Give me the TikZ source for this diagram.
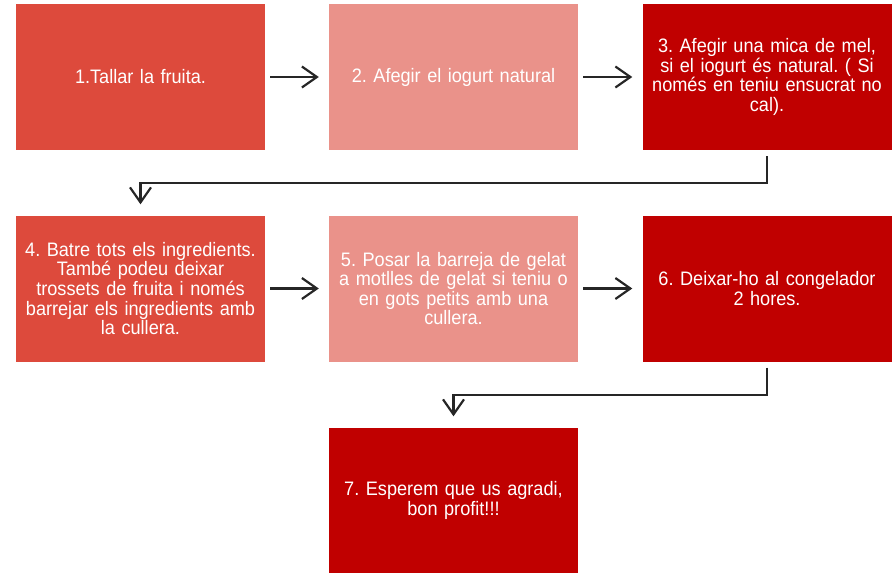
\documentclass[tikz,border=0pt]{standalone}
\usepackage{fontspec}
\setmainfont[FakeStretch=0.93, WordSpace=1.75]{Liberation Sans}
\usetikzlibrary{arrows.meta}
\definecolor{cA}{RGB}{221,74,60}
\definecolor{cB}{RGB}{234,146,138}
\definecolor{cC}{RGB}{192,0,0}
\definecolor{lineC}{RGB}{38,38,38}
\tikzset{
  stepbox/.style={draw=none, minimum width=249pt, minimum height=146pt, inner sep=0pt,
    text width=247pt, align=center, text=white,
    font=\fontsize{19.5pt}{19.6pt}\selectfont\frenchspacing},
  arr/.style={draw=lineC, line width=2.2pt,
    -{Straight Barb[length=15pt,width=21pt,line width=2.2pt]}},
}
\begin{document}
\begin{tikzpicture}[x=1pt,y=-1pt]
\useasboundingbox (0,0) rectangle (895,573);
\node[stepbox, fill=cA] (b1) at (140.5,77) {1.Tallar la fruita.};
\node[stepbox, fill=cB] (b2) at (453.5,77) {2. Afegir el iogurt natural};
\node[stepbox, fill=cC] (b3) at (767,77) {3. Afegir una mica de mel,\\ si el iogurt és natural. ( Si\\ només en teniu ensucrat no\\ cal).};
\node[stepbox, fill=cA] (b4) at (140.5,288.5) {4. Batre tots els ingredients.\\ També podeu deixar\\ trossets de fruita i només\\ barrejar els ingredients amb\\ la cullera.};
\node[stepbox, fill=cB] (b5) at (453.5,288.5) {5. Posar la barreja de gelat\\ a motlles de gelat si teniu o\\ en gots petits amb una\\ cullera.};
\node[stepbox, fill=cC] (b6) at (767,288.5) {6. Deixar-ho al congelador\\ 2 hores.};
\node[stepbox, fill=cC] (b7) at (453.5,500.5) {7. Esperem que us agradi,\\ bon profit!!!};
\draw[arr] ([xshift=5pt]b1.east) -- ([xshift=-10pt]b2.west);
\draw[arr] ([xshift=5pt]b2.east) -- ([xshift=-10pt]b3.west);
\draw[arr] ([xshift=5pt]b4.east) -- ([xshift=-10pt]b5.west);
\draw[arr] ([xshift=5pt]b5.east) -- ([xshift=-10pt]b6.west);
\draw[arr] ([yshift=-6pt]b3.south) -- ++(0,27) -| ([yshift=11pt]b4.north);
\draw[arr] ([yshift=-6pt]b6.south) -- ++(0,27) -| ([yshift=11pt]b7.north);
\end{tikzpicture}
\end{document}
